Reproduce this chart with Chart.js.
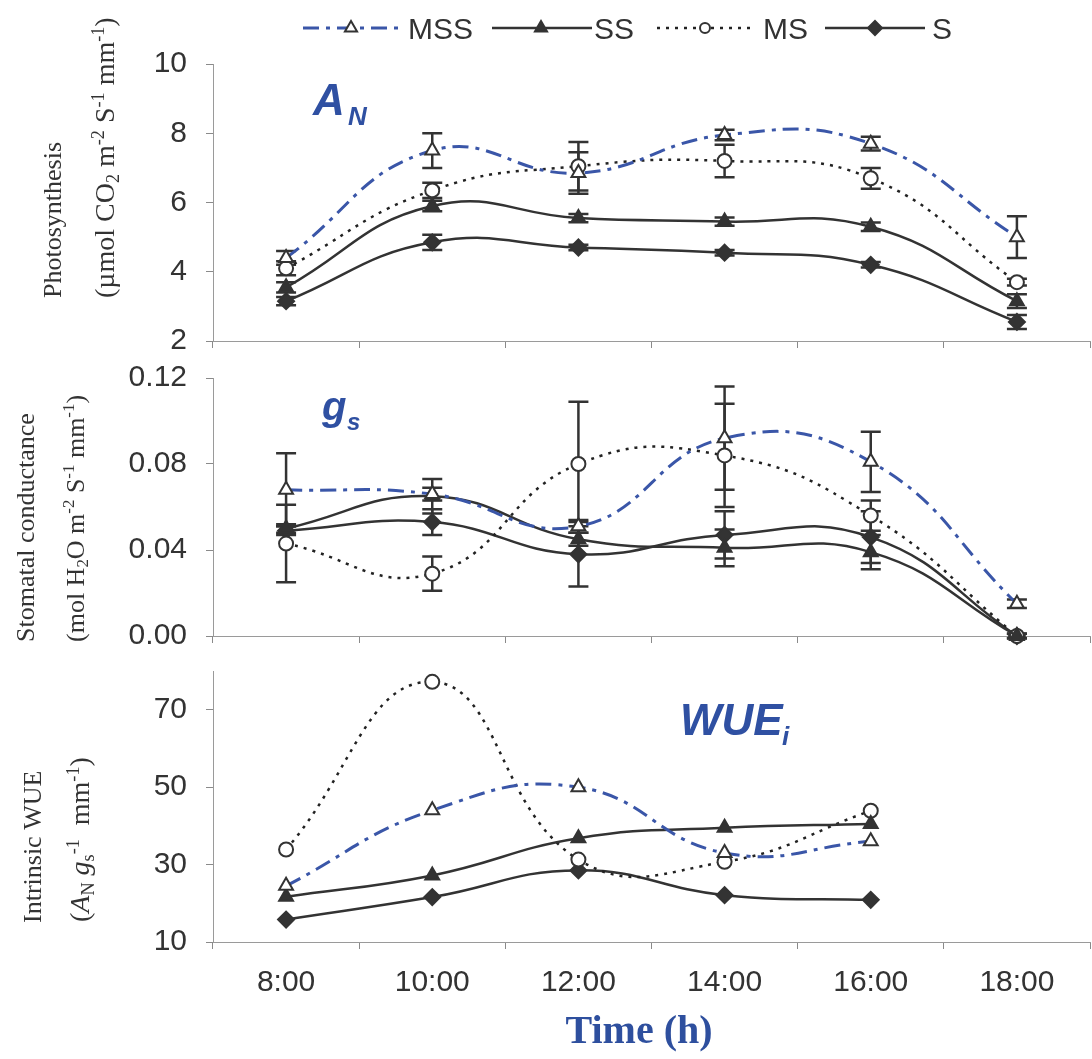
<!DOCTYPE html>
<html>
<head>
<meta charset="utf-8">
<script src="https://cdn.jsdelivr.net/npm/chart.js@4.4.1/dist/chart.umd.min.js"></script>
<style>
body { margin:0; background:#fff; width:1092px; height:1059px; overflow:hidden; position:relative; }
canvas { position:absolute; left:0; }
</style>
</head>
<body>
<canvas id="chartAN" width="1100" height="358" style="top:0px"></canvas>
<canvas id="chartGS" width="1100" height="297" style="top:358px"></canvas>
<canvas id="chartWUE" width="1100" height="404" style="top:655px"></canvas>
<script>
// time of day (categories)
var hours = ["8:00", "10:00", "12:00", "14:00", "16:00", "18:00"];

// photosynthesis A_N
var anMSS = [4.4, 7.5, 6.85, 7.95, 7.7, 5.0];
var anMSSErr = [0.2, 0.5, 0.6, 0.15, 0.2, 0.6];
var anSS = [3.55, 5.9, 5.55, 5.45, 5.3, 3.15];
var anSSErr = [0.15, 0.15, 0.12, 0.12, 0.12, 0.2];
var anMS = [4.1, 6.35, 7.05, 7.2, 6.7, 3.7];
var anMSErr = [0.2, 0.22, 0.7, 0.47, 0.3, 0.1];
var anS = [3.15, 4.85, 4.7, 4.55, 4.2, 2.55];
var anSErr = [0.12, 0.22, 0.08, 0.08, 0.08, 0.2];
var anTicks = [2, 4, 6, 8, 10];

// stomatal conductance g_s
var gsMSS = [0.068, 0.066, 0.051, 0.092, 0.081, 0.015];
var gsMSSErr = [0.017, 0.003, 0.003, 0.024, 0.014, 0.002];
var gsSS = [0.050, 0.065, 0.045, 0.041, 0.039, 0.000];
var gsSSErr = [0.002, 0.008, 0.003, 0.0085, 0.008, 0.001];
var gsMS = [0.043, 0.029, 0.080, 0.084, 0.056, 0.000];
var gsMSErr = [0.018, 0.008, 0.029, 0.024, 0.007, 0.001];
var gsS = [0.049, 0.053, 0.038, 0.047, 0.046, 0.000];
var gsSErr = [0.002, 0.006, 0.015, 0.011, 0.012, 0.001];
var gsTicks = [0, 0.04, 0.08, 0.12];

// intrinsic WUE (no 18:00 value)
var wueMSS = [24.5, 44, 50, 33, 36, null];
var wueSS = [21.7, 27.2, 36.8, 39.5, 40.5, null];
var wueMS = [33.9, 77.2, 31.3, 30.7, 43.9, null];
var wueS = [15.8, 21.6, 28.5, 22.1, 20.9, null];
var wueTicks = [10, 30, 50, 70];

var BLUE = '#2f50a2';
var INK = '#333333';
var SANS = "'Liberation Sans', Arial, sans-serif";
var SERIF = "'Liberation Serif', 'Times New Roman', serif";

var styles = {
    MSS: { color: '#3a56a8', dash: [16, 7, 4, 7], width: 3, point: 'triangle', radius: 8, fill: '#ffffff' },
    SS: { color: INK, dash: [], width: 2.5, point: 'triangle', radius: 8, fill: INK },
    MS: { color: '#222222', dash: [3, 6], width: 2.5, point: 'circle', radius: 7, fill: '#ffffff' },
    S: { color: INK, dash: [], width: 2.5, point: 'rectRot', radius: 8, fill: INK }
};

function makeSet(name, values, errors) {
    var st = styles[name];
    return {
        label: name,
        data: values,
        errors: errors,
        borderColor: st.color,
        borderDash: st.dash,
        borderWidth: st.width,
        pointStyle: st.point,
        pointRadius: st.radius,
        pointBackgroundColor: st.fill,
        pointBorderColor: INK,
        pointBorderWidth: 2,
        tension: 0.45,
        fill: false,
        clip: false
    };
}

// error bars, drawn under the markers
var errorBars = {
    id: 'errorBars',
    beforeDatasetsDraw: function (chart) {
        var ctx = chart.ctx, ys = chart.scales.y;
        chart.data.datasets.forEach(function (ds, di) {
            if (!ds.errors) return;
            var meta = chart.getDatasetMeta(di);
            ctx.save();
            ctx.strokeStyle = INK;
            ctx.lineWidth = 2.5;
            ctx.setLineDash([]);
            meta.data.forEach(function (pt, i) {
                var v = ds.data[i], e = ds.errors[i];
                if (v == null || !e) return;
                var y1 = ys.getPixelForValue(v + e), y2 = ys.getPixelForValue(v - e), x = pt.x;
                ctx.beginPath();
                ctx.moveTo(x, y1); ctx.lineTo(x, y2);
                ctx.moveTo(x - 10, y1); ctx.lineTo(x + 10, y1);
                ctx.moveTo(x - 10, y2); ctx.lineTo(x + 10, y2);
                ctx.stroke();
            });
            ctx.restore();
        });
    }
};

// rich text: parts are strings or {t, sub, sup, it}
function drawRich(ctx, parts, size, family, weight, color, rotated) {
    var cx = 0;
    parts.forEach(function (p) {
        if (typeof p === 'string') p = { t: p };
        var s = (p.sub || p.sup) ? size * 0.65 : size;
        var dy = p.sub ? size * 0.18 : (p.sup ? -size * 0.38 : 0);
        ctx.font = (p.it ? 'italic ' : '') + (weight || '') + ' ' + s + 'px ' + family;
        ctx.fillStyle = color;
        ctx.fillText(p.t, cx, dy + (rotated ? size * 0.33 : 0));
        cx += ctx.measureText(p.t).width;
    });
}

var pageText = {
    id: 'pageText',
    afterDraw: function (chart, args, opts) {
        var ctx = chart.ctx, top = opts.top || 0;
        (opts.titles || []).forEach(function (ln) {
            ctx.save();
            ctx.translate(ln.x, ln.y - top);
            ctx.rotate(-Math.PI / 2);
            ctx.textBaseline = 'alphabetic';
            drawRich(ctx, ln.parts, ln.size || 26, SERIF, '', INK, true);
            ctx.restore();
        });
        (opts.labels || []).forEach(function (lb) {
            ctx.save();
            ctx.textBaseline = 'alphabetic';
            ctx.textAlign = lb.align || 'left';
            ctx.font = lb.font;
            ctx.fillStyle = lb.color;
            ctx.fillText(lb.text, lb.x, lb.y - top);
            ctx.restore();
        });
    }
};

var legendRow = [
    { name: 'MSS', x1: 303, x2: 400, mx: 351, tx: 408, r: 7 },
    { name: 'SS', x1: 492, x2: 592, mx: 541, tx: 594, r: 7 },
    { name: 'MS', x1: 657, x2: 752, mx: 705, tx: 763, r: 5 },
    { name: 'S', x1: 825, x2: 925, mx: 875, tx: 932, r: 7 }
];

var topLegend = {
    id: 'topLegend',
    afterDraw: function (chart) {
        var ctx = chart.ctx, y = 28;
        legendRow.forEach(function (it) {
            var st = styles[it.name];
            ctx.save();
            ctx.strokeStyle = st.color;
            ctx.lineWidth = st.width;
            ctx.setLineDash(st.dash);
            ctx.beginPath();
            ctx.moveTo(it.x1, y); ctx.lineTo(it.x2, y);
            ctx.stroke();
            ctx.setLineDash([]);
            ctx.fillStyle = st.fill;
            ctx.strokeStyle = INK;
            ctx.lineWidth = 2;
            Chart.helpers.drawPoint(ctx, { pointStyle: st.point, radius: it.r, borderWidth: 2, rotation: 0 }, it.mx, y);
            ctx.font = '30px ' + SANS;
            ctx.fillStyle = INK;
            ctx.textBaseline = 'alphabetic';
            ctx.fillText(it.name, it.tx, 39);
            ctx.restore();
        });
    }
};

function makePanel(id, sets, yMin, yMax, yTicks, fmt, padTop, xHeight, showX, textOpts, extra) {
    return new Chart(id, {
        type: 'line',
        data: { labels: hours, datasets: sets },
        plugins: [errorBars, pageText].concat(extra || []),
        options: {
            responsive: false,
            animation: false,
            layout: { padding: { top: padTop, right: 5, left: 0, bottom: 0 } },
            plugins: { legend: { display: false }, tooltip: { enabled: false }, pageText: textOpts },
            scales: {
                x: {
                    type: 'category',
                    offset: true,
                    grid: { offset: true, drawOnChartArea: false, drawTicks: true, tickLength: 7, color: '#8a8a8a' },
                    border: { display: true, color: '#9a9a9a', width: 1 },
                    ticks: { display: showX, padding: 16, color: INK, maxRotation: 0, autoSkip: false,
                        font: { family: SANS, size: 30 } },
                    afterFit: function (s) { s.height = xHeight; s.paddingLeft = 0; s.paddingRight = 0; }
                },
                y: {
                    min: yMin,
                    max: yMax,
                    afterBuildTicks: function (s) { s.ticks = yTicks.map(function (v) { return { value: v }; }); },
                    afterFit: function (s) { s.width = 213; s.paddingTop = 0; s.paddingBottom = 0; },
                    grid: { drawOnChartArea: false, drawTicks: true, tickLength: 7, color: '#8a8a8a' },
                    border: { display: true, color: '#9a9a9a', width: 1 },
                    ticks: { padding: 19, color: INK, font: { family: SANS, size: 30 }, callback: fmt }
                }
            }
        }
    });
}

makePanel('chartAN',
    [makeSet('MSS', anMSS, anMSSErr), makeSet('SS', anSS, anSSErr), makeSet('MS', anMS, anMSErr), makeSet('S', anS, anSErr)],
    2, 10, anTicks, function (v) { return String(v); }, 64, 17, false,
    {
        top: 0,
        titles: [
            { x: 52, y: 298, parts: ['Photosynthesis'] },
            { x: 105, y: 298, size: 28, parts: ['(\u00B5mol CO', { t: '2', sub: 1 }, ' m', { t: '-2', sup: 1 }, ' S', { t: '-1', sup: 1 }, ' mm', { t: '-1', sup: 1 }, ')'] }
        ],
        labels: [
            { text: 'A', x: 313, y: 115, font: 'italic bold 44px ' + SANS, color: BLUE },
            { text: 'N', x: 348, y: 125, font: 'italic bold 26px ' + SANS, color: BLUE }
        ]
    }, [topLegend]);

makePanel('chartGS',
    [makeSet('MSS', gsMSS, gsMSSErr), makeSet('SS', gsSS, gsSSErr), makeSet('MS', gsMS, gsMSErr), makeSet('S', gsS, gsSErr)],
    0, 0.12, gsTicks, function (v) { return v.toFixed(2); }, 20, 19, false,
    {
        top: 358,
        titles: [
            { x: 25, y: 642, parts: ['Stomatal conductance'] },
            { x: 75, y: 642, parts: ['(mol H', { t: '2', sub: 1 }, 'O m', { t: '-2', sup: 1 }, ' S', { t: '-1', sup: 1 }, ' mm', { t: '-1', sup: 1 }, ')'] }
        ],
        labels: [
            { text: 'g', x: 322, y: 420, font: 'italic bold 40px ' + SANS, color: BLUE },
            { text: 's', x: 347, y: 430, font: 'italic bold 24px ' + SANS, color: BLUE }
        ]
    });

makePanel('chartWUE',
    [makeSet('MSS', wueMSS, null), makeSet('SS', wueSS, null), makeSet('MS', wueMS, null), makeSet('S', wueS, null)],
    10, 80, wueTicks, function (v) { return String(v); }, 16, 117, true,
    {
        top: 655,
        titles: [
            { x: 32, y: 923, parts: ['Intrinsic WUE'] },
            { x: 80, y: 922, size: 28, parts: ['(', { t: 'A', it: 1 }, { t: 'N', sub: 1 }, ' ', { t: 'g', it: 1 }, { t: 's', sub: 1 }, { t: '-1', sup: 1 }, '  mm', { t: '-1', sup: 1 }, ')'] }
        ],
        labels: [
            { text: 'WUE', x: 680, y: 735, font: 'italic bold 44px ' + SANS, color: BLUE },
            { text: 'i', x: 782, y: 745, font: 'italic bold 26px ' + SANS, color: BLUE },
            { text: 'Time (h)', x: 639, y: 1043, align: 'center', font: 'bold 40px ' + SERIF, color: '#2e4f9e' }
        ]
    });
</script>
</body>
</html>
